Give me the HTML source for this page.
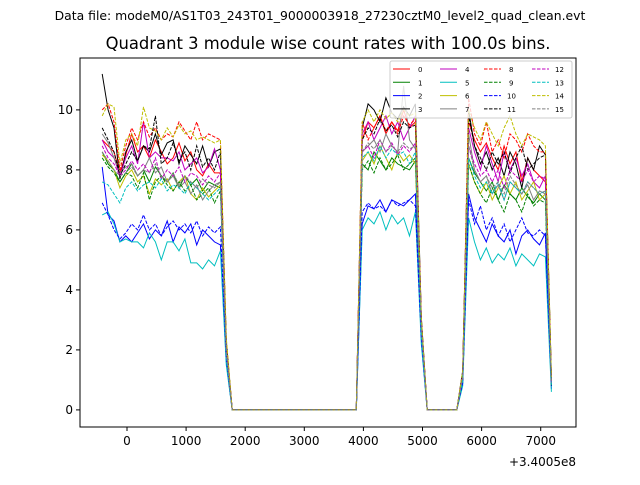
<!DOCTYPE html>
<html><head><meta charset="utf-8"><style>
body{margin:0;background:#fff;font-family:"Liberation Sans","DejaVu Sans",sans-serif}
svg text{font-family:"DejaVu Sans","Liberation Sans",sans-serif}
</style></head><body>
<svg id="chart" width="640" height="480" xmlns="http://www.w3.org/2000/svg">
<rect width="640" height="480" fill="#fff"/>
<text x="320" y="20" font-size="12.4" text-anchor="middle">Data file: modeM0/AS1T03_243T01_9000003918_27230cztM0_level2_quad_clean.evt</text>
<text x="328" y="49" font-size="16.4" text-anchor="middle">Quadrant 3 module wise count rates with 100.0s bins.</text>
<g id="marks"></g>
<rect x="80" y="58" width="496" height="369" fill="none" stroke="#000" stroke-width="1"/>
<g id="axes"></g>
<text x="576" y="466" font-size="12" text-anchor="end">+3.4005e8</text>
<g id="legend"></g>
</svg>
<script>
const xTicks=[0,1000,2000,3000,4000,5000,6000,7000];
const yTicks=[0,2,4,6,8,10];
const t0=-420, dt=100;
const s0=[9.0,8.8,8.6,7.9,8.5,9.2,8.6,8.8,8.4,9.0,8.6,8.2,8.4,8.9,8.3,8.6,8.0,7.8,8.2,7.9,7.9,2.2,0,0,0,0,0,0,0,0,0,0,0,0,0,0,0,0,0,0,0,0,0,0,9.0,9.6,9.4,9.8,9.2,9.6,9.3,10.0,9.4,9.6,3.0,0,0,0,0,0,0,1.2,9.6,9.0,8.6,8.9,8.4,8.0,8.8,8.2,8.6,7.6,8.4,8.0,7.8,7.6,1.0];
const s1=[8.6,8.2,8.0,7.6,7.9,8.2,7.8,8.0,7.6,8.1,7.8,7.6,7.9,7.4,7.8,7.5,7.7,7.3,7.6,7.5,7.4,2.0,0,0,0,0,0,0,0,0,0,0,0,0,0,0,0,0,0,0,0,0,0,0,8.2,8.0,8.6,8.3,8.0,8.4,8.2,8.1,8.0,8.3,2.8,0,0,0,0,0,0,1.1,8.4,7.9,7.6,7.3,7.6,7.0,7.5,7.2,7.0,7.4,7.1,6.9,7.2,7.0,0.9];
const s2=[8.1,6.5,6.3,5.6,5.8,5.6,5.9,6.2,5.7,6.0,5.8,6.3,5.6,6.1,5.9,6.2,5.5,6.0,5.8,5.6,5.5,1.6,0,0,0,0,0,0,0,0,0,0,0,0,0,0,0,0,0,0,0,0,0,0,6.2,6.8,6.7,7.0,6.6,7.0,6.9,6.8,7.0,7.2,2.4,0,0,0,0,0,0,0.9,7.2,6.4,6.0,5.6,6.2,5.8,5.6,6.0,5.2,5.8,6.0,5.7,5.5,5.9,0.7];
const s3=[11.2,10.0,9.4,7.7,8.6,9.0,8.3,8.8,8.6,9.2,8.5,8.9,9.0,8.2,8.8,8.5,8.2,8.8,8.1,8.6,8.7,2.3,0,0,0,0,0,0,0,0,0,0,0,0,0,0,0,0,0,0,0,0,0,0,9.4,10.2,10.0,9.6,10.4,9.9,9.7,10.1,9.8,10.2,3.1,0,0,0,0,0,0,1.3,10.0,8.8,8.2,8.6,8.0,8.4,7.8,8.6,8.2,7.4,8.4,8.0,8.8,8.5,1.1];
const s4=[9.0,8.6,8.4,7.8,8.4,8.8,8.2,9.6,8.4,8.6,8.4,8.4,8.3,8.6,8.0,8.2,8.4,7.9,8.1,8.7,8.0,2.1,0,0,0,0,0,0,0,0,0,0,0,0,0,0,0,0,0,0,0,0,0,0,9.2,9.6,9.0,9.4,9.8,9.2,9.6,9.0,9.4,9.8,3.0,0,0,0,0,0,0,1.2,9.4,8.6,8.0,8.8,8.2,7.6,8.6,8.0,8.4,7.8,8.2,7.6,7.4,7.8,0.9];
const s5=[6.5,6.6,6.2,5.6,5.7,5.6,5.6,5.4,5.9,5.6,5.0,5.6,5.6,5.3,5.7,4.9,4.9,4.7,5.0,4.8,5.3,1.5,0,0,0,0,0,0,0,0,0,0,0,0,0,0,0,0,0,0,0,0,0,0,6.0,6.4,6.2,6.6,6.0,6.5,6.2,6.4,5.8,6.6,2.2,0,0,0,0,0,0,0.8,6.4,5.6,5.0,5.4,4.9,5.2,5.0,5.4,4.8,5.2,5.0,4.8,5.2,5.1,0.6];
const s6=[8.5,8.3,8.0,7.4,7.8,8.0,7.6,7.8,7.2,7.7,7.5,7.7,7.3,7.6,7.8,7.2,7.0,7.4,7.1,7.3,7.5,1.9,0,0,0,0,0,0,0,0,0,0,0,0,0,0,0,0,0,0,0,0,0,0,8.3,8.6,8.2,8.8,8.4,8.0,8.6,8.3,8.5,8.2,2.7,0,0,0,0,0,0,1.0,8.2,7.6,7.2,7.6,7.0,7.4,7.8,7.2,7.6,7.0,7.3,7.6,7.0,7.2,0.9];
const s7=[9.2,8.9,8.4,7.9,8.1,8.2,7.8,8.0,8.4,7.9,8.1,7.6,7.8,7.4,7.6,7.2,7.5,7.0,7.3,7.5,7.6,2.0,0,0,0,0,0,0,0,0,0,0,0,0,0,0,0,0,0,0,0,0,0,0,8.6,8.8,9.0,8.6,9.2,8.8,8.6,10.8,9.0,8.7,2.9,0,0,0,0,0,0,1.1,9.2,8.0,7.6,7.8,7.2,7.5,7.0,7.6,7.4,7.2,7.5,7.0,7.3,7.2,0.9];
const s8=[10.0,10.2,9.6,8.0,8.8,9.4,9.0,9.6,9.1,9.4,9.0,9.2,9.1,9.6,9.3,9.0,9.6,9.0,9.2,9.1,9.0,2.3,0,0,0,0,0,0,0,0,0,0,0,0,0,0,0,0,0,0,0,0,0,0,9.6,9.0,9.4,9.8,9.3,9.6,9.2,9.8,9.5,9.7,3.0,0,0,0,0,0,0,1.2,10.4,9.2,8.8,9.6,8.6,9.0,8.4,9.2,9.0,8.6,9.2,8.8,8.6,8.6,1.0];
const s9=[8.4,8.1,7.9,7.6,7.9,7.8,7.4,7.9,7.0,7.6,7.8,7.5,7.3,7.6,7.3,7.5,7.0,7.2,7.4,6.9,7.3,1.9,0,0,0,0,0,0,0,0,0,0,0,0,0,0,0,0,0,0,0,0,0,0,8.0,8.3,7.9,8.4,8.0,8.2,8.5,8.0,8.2,8.4,2.7,0,0,0,0,0,0,1.0,8.2,7.6,7.2,6.9,7.4,7.0,6.6,7.2,7.0,6.6,7.2,6.8,7.0,6.9,0.8];
const s10=[6.9,6.5,6.0,5.7,5.9,6.2,6.0,6.5,6.0,6.2,5.8,6.1,6.3,6.0,6.2,5.9,6.3,5.8,6.1,5.9,6.1,1.7,0,0,0,0,0,0,0,0,0,0,0,0,0,0,0,0,0,0,0,0,0,0,6.6,6.9,6.7,6.8,6.6,7.0,6.8,6.9,7.0,6.8,2.4,0,0,0,0,0,0,0.9,7.0,6.2,6.8,6.0,6.4,5.8,6.2,5.6,6.0,6.4,5.9,5.8,6.0,5.8,0.8];
const s11=[9.4,9.0,8.6,7.8,8.2,8.6,8.3,8.8,8.7,9.8,8.2,8.4,8.9,8.3,8.6,8.0,8.8,8.1,8.4,8.0,8.6,2.2,0,0,0,0,0,0,0,0,0,0,0,0,0,0,0,0,0,0,0,0,0,0,9.0,9.4,9.2,9.7,9.3,9.5,9.1,9.6,9.4,9.5,3.0,0,0,0,0,0,0,1.2,9.8,8.8,8.4,8.0,8.6,8.2,8.6,7.9,8.4,8.8,8.0,8.2,8.4,8.5,1.0];
const s12=[8.8,8.4,8.2,7.8,8.0,8.3,8.0,8.2,7.9,8.4,7.7,8.0,7.8,8.1,7.6,7.9,7.8,7.5,7.8,7.6,7.9,2.0,0,0,0,0,0,0,0,0,0,0,0,0,0,0,0,0,0,0,0,0,0,0,8.6,8.8,8.4,9.0,8.6,8.9,8.5,8.8,8.6,8.9,2.8,0,0,0,0,0,0,1.1,8.8,8.2,7.8,8.0,7.6,8.0,7.4,8.0,7.8,7.6,8.0,7.6,7.8,7.7,0.9];
const s13=[7.6,7.5,7.2,6.9,7.4,7.6,7.3,7.5,7.6,7.4,7.7,7.3,7.5,7.4,7.2,7.6,7.4,7.2,7.0,7.2,7.4,1.8,0,0,0,0,0,0,0,0,0,0,0,0,0,0,0,0,0,0,0,0,0,0,8.4,8.6,8.3,8.8,8.4,8.7,8.5,8.6,8.2,8.6,2.6,0,0,0,0,0,0,1.0,8.4,7.8,7.4,7.6,7.2,7.6,7.0,7.6,7.4,7.2,7.6,7.4,7.2,7.3,0.8];
const s14=[9.8,10.2,10.1,8.2,9.0,9.2,8.8,10.1,9.4,9.3,9.0,9.4,9.1,9.5,9.2,9.3,9.0,9.1,9.0,8.9,9.0,2.4,0,0,0,0,0,0,0,0,0,0,0,0,0,0,0,0,0,0,0,0,0,0,9.6,10.0,9.6,10.0,9.7,9.9,9.6,10.0,9.8,9.9,3.1,0,0,0,0,0,0,1.3,10.0,9.4,9.0,9.6,9.2,8.8,9.4,9.8,9.2,8.8,9.2,9.1,9.0,8.8,1.1];
const s15=[8.6,8.3,8.0,7.8,7.9,8.1,7.8,8.0,7.9,8.2,7.8,7.6,7.9,7.5,7.8,7.6,7.4,7.7,7.5,7.4,7.6,2.0,0,0,0,0,0,0,0,0,0,0,0,0,0,0,0,0,0,0,0,0,0,0,8.6,8.9,8.7,9.0,8.6,8.8,8.6,8.9,8.7,8.8,2.8,0,0,0,0,0,0,1.1,8.8,8.0,7.6,7.8,7.4,7.6,7.2,7.8,7.5,7.2,7.6,7.4,7.2,7.3,0.9];
const series=[s0,s1,s2,s3,s4,s5,s6,s7,s8,s9,s10,s11,s12,s13,s14,s15];
const colors=["#ff0000","#008000","#0000ff","#000000","#bf00bf","#00bfbf","#bfbf00","#808080"];
const X0=80,X1=576,Y0=58,Y1=427, xmin=-795,xmax=7597,ymin=-0.57,ymax=11.73;
const sx=v=>X0+(v-xmin)/(xmax-xmin)*(X1-X0);
const sy=v=>Y1-(v-ymin)/(ymax-ymin)*(Y1-Y0);
const NS="http://www.w3.org/2000/svg";
function mk(tag,attrs,parent){const e=document.createElementNS(NS,tag);for(const k in attrs)e.setAttribute(k,attrs[k]);parent.appendChild(e);return e;}
const marks=document.getElementById('marks');
series.forEach((s,i)=>{
  const d=s.map((v,j)=>(j?'L':'M')+sx(t0+j*dt).toFixed(1)+','+sy(v).toFixed(1)).join('');
  const p=mk('path',{d:d,fill:'none',stroke:colors[i%8],'stroke-width':1,'stroke-dasharray':i>=8?'3.5,1.5':'none'},marks);
  
  
});
const axes=document.getElementById('axes');
xTicks.forEach(v=>{
  const x=sx(v);
  const l=mk('line',{x1:x,x2:x,y1:Y1,y2:Y1+4,stroke:'#000'},axes);
  
  
  const t=mk('text',{x:x,y:Y1+18,'font-size':12,'text-anchor':'middle'},axes);t.textContent=v;
  
  
});
yTicks.forEach(v=>{
  const y=sy(v);
  const l=mk('line',{x1:X0-4,x2:X0,y1:y,y2:y,stroke:'#000'},axes);
  
  
  const t=mk('text',{x:X0-7,y:y+4,'font-size':12,'text-anchor':'end'},axes);t.textContent=v;
  
  
});
const lg=document.getElementById('legend');
mk('rect',{x:390,y:61,width:182,height:57,fill:'#fff','fill-opacity':0.8,stroke:'#ccc',rx:2},lg);
const colX=[393,440,484,532];
series.forEach((s,i)=>{
  const c=Math.floor(i/4),r=i%4,y=69+r*13.3,x=colX[c];
  const l=mk('line',{x1:x,x2:x+17,y1:y,y2:y,stroke:colors[i%8],'stroke-width':1,'stroke-dasharray':i>=8?'3.5,1.5':'none'},lg);
  
  
  const t=mk('text',{x:x+(i>=10?23:25),y:y+3,'font-size':7},lg);t.textContent=i;
  
  
});
</script>
</body></html>
